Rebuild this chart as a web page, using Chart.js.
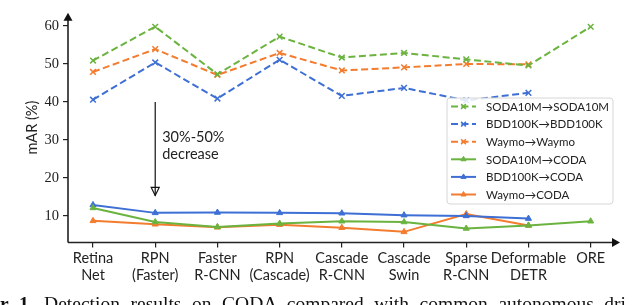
<!DOCTYPE html>
<html><head><meta charset="utf-8">
<script src="https://cdn.jsdelivr.net/npm/chart.js@4"></script>
<style>
html,body{margin:0;padding:0;background:#fff;}
#wrap{position:relative;width:640px;height:305px;overflow:hidden;}
#chart{position:absolute;left:0;top:0;}
#caption{position:absolute;left:0;top:294px;width:626px;font-family:"Liberation Serif",serif;font-size:19.5px;line-height:20px;text-align:justify;text-align-last:justify;color:#111;}
</style>
</head><body>
<div id="wrap">
<canvas id="chart" width="640" height="305"></canvas>
<div id="caption"><b>r 1.</b> Detection results on CODA compared with common autonomous dri</div>
</div>
<script>
const categories = [['Retina','Net'],['RPN','(Faster)'],['Faster','R-CNN'],['RPN','(Cascade)'],['Cascade','R-CNN'],['Cascade','Swin'],['Sparse','R-CNN'],['Deformable','DETR'],['ORE']];
const yTicks = [10,20,30,40,50,60];
const sodaSoda   = [50.9, 59.8, 47.3, 57.2, 51.7, 52.9, 51.2, 49.6, 59.8];
const bddBdd     = [40.6, 50.4, 40.9, 51.1, 41.6, 43.7, 40.4, 42.4, null];
const waymoWaymo = [47.9, 53.9, 47.1, 52.9, 48.3, 49.1, 50.0, 49.9, null];
const sodaCoda   = [12.1, 8.4, 7.1, 8.0, 8.6, 8.4, 6.7, 7.5, 8.6];
const bddCoda    = [12.9, 10.8, 10.9, 10.8, 10.7, 10.2, 10.0, 9.3, null];
const waymoCoda  = [8.7, 7.8, 7.0, 7.7, 6.9, 5.8, 10.5, 7.5, null];
const seriesNames = ['SODA10M\u2192SODA10M','BDD100K\u2192BDD100K','Waymo\u2192Waymo','SODA10M\u2192CODA','BDD100K\u2192CODA','Waymo\u2192CODA'];
const annotationText = ['30%-50%','decrease'];

const GREEN='#6bb33f', BLUE='#3d6fd4', ORANGE='#f37c2f';
const SANS='Lato, "DejaVu Sans", sans-serif';

function pts(arr){ return arr.map((v,i)=>v==null?null:{x:i,y:v}).filter(p=>p); }
function dashed(label,data,color){
  return {label,data:pts(data),borderColor:color,backgroundColor:color,borderWidth:2,borderDash:[7,3.5],
    pointStyle:'crossRot',pointRadius:4,pointBorderWidth:1.5,pointBorderColor:color,tension:0,fill:false};
}
function solid(label,data,color){
  return {label,data:pts(data),borderColor:color,backgroundColor:color,borderWidth:2,
    pointStyle:'triangle',pointRadius:3.5,pointBorderWidth:1,pointBackgroundColor:color,pointBorderColor:color,tension:0,fill:false};
}

const deco = {
  id:'deco',
  afterDraw(chart){
    const {ctx, chartArea:a, scales:{x,y}} = chart;
    ctx.save();
    ctx.setLineDash([]);
    // axes
    ctx.strokeStyle='#222'; ctx.fillStyle='#111'; ctx.lineWidth=1.6;
    ctx.beginPath();
    ctx.moveTo(a.left,a.bottom); ctx.lineTo(a.left,a.top+6);
    ctx.moveTo(a.left,a.bottom); ctx.lineTo(a.right+2,a.bottom);
    ctx.stroke();
    ctx.beginPath(); ctx.moveTo(a.left,a.top); ctx.lineTo(a.left-4.5,a.top+8); ctx.lineTo(a.left+4.5,a.top+8); ctx.closePath(); ctx.fill();
    ctx.beginPath(); ctx.moveTo(a.right+8,a.bottom); ctx.lineTo(a.right,a.bottom-4.5); ctx.lineTo(a.right,a.bottom+4.5); ctx.closePath(); ctx.fill();

    // annotation arrow
    const ax = x.getPixelForValue(1);
    const y0 = y.getPixelForValue(40), y1 = y.getPixelForValue(15.4);
    ctx.lineWidth=1.2; ctx.strokeStyle='#111';
    ctx.beginPath(); ctx.moveTo(ax,y0); ctx.lineTo(ax,y1); ctx.stroke();
    ctx.beginPath(); ctx.moveTo(ax,y1); ctx.lineTo(ax-4,y1-8); ctx.lineTo(ax+4,y1-8); ctx.closePath();
    ctx.fillStyle='#fff'; ctx.fill(); ctx.stroke();
    ctx.beginPath(); ctx.moveTo(ax,y1-8); ctx.lineTo(ax,y1); ctx.stroke();
    ctx.fillStyle='#222'; ctx.font='14.5px '+SANS; ctx.textBaseline='alphabetic'; ctx.textAlign='left';
    const tb = y.getPixelForValue(29.4);
    annotationText.forEach((t,i)=>ctx.fillText(t, ax+7, tb+i*17));

    // legend
    const lw=166, lh=106, lx=a.right-165, ly=98;
    ctx.beginPath();
    if (ctx.roundRect) ctx.roundRect(lx,ly,lw,lh,3); else ctx.rect(lx,ly,lw,lh);
    ctx.fillStyle='rgba(255,255,255,0.85)'; ctx.fill();
    ctx.strokeStyle='#d6d6d6'; ctx.lineWidth=1; ctx.stroke();
    chart.data.datasets.forEach((ds,i)=>{
      const cy = ly+8.5+i*17.6;
      ctx.save();
      ctx.strokeStyle=ds.borderColor; ctx.lineWidth=2;
      ctx.setLineDash(ds.borderDash||[]);
      ctx.beginPath(); ctx.moveTo(lx+4,cy); ctx.lineTo(lx+29,cy); ctx.stroke();
      ctx.setLineDash([]);
      ctx.lineWidth=ds.pointBorderWidth; ctx.fillStyle=ds.pointBackgroundColor||ds.borderColor;
      Chart.helpers.drawPoint(ctx,{pointStyle:ds.pointStyle,radius:ds.pointRadius*0.85,borderWidth:ds.pointBorderWidth,rotation:0},lx+16.5,cy);
      ctx.restore();
      ctx.fillStyle='#222'; ctx.font='11.5px '+SANS; ctx.textBaseline='middle';
      ctx.fillText(ds.label, lx+39, cy+0.5);
    });
    ctx.restore();
  }
};

new Chart(document.getElementById('chart'),{
  type:'line',
  data:{datasets:[
    dashed(seriesNames[0],sodaSoda,GREEN),
    dashed(seriesNames[1],bddBdd,BLUE),
    dashed(seriesNames[2],waymoWaymo,ORANGE),
    solid(seriesNames[3],sodaCoda,GREEN),
    solid(seriesNames[4],bddCoda,BLUE),
    solid(seriesNames[5],waymoCoda,ORANGE)
  ]},
  options:{
    responsive:false, animation:false, devicePixelRatio:1,
    layout:{padding:{left:0,right:28,top:0,bottom:0}},
    plugins:{legend:{display:false},tooltip:{enabled:false}},
    elements:{line:{borderCapStyle:'butt'}},
    scales:{
      x:{type:'linear',min:-0.402,max:8.343,
        afterBuildTicks:(s)=>{s.ticks=categories.map((c,i)=>({value:i}));},
        afterFit:(s)=>{s.height=62.5;},
        grid:{drawOnChartArea:false,drawTicks:true,tickLength:5,color:'#222',lineWidth:1.2},
        border:{display:false},
        ticks:{autoSkip:false,maxRotation:0,padding:2,color:'#222',font:{family:SANS,size:14.5},
          callback:(v)=>categories[v]}
      },
      y:{type:'linear',min:3.0,max:63.5,
        afterBuildTicks:(s)=>{s.ticks=yTicks.map(v=>({value:v}));},
        afterFit:(s)=>{s.width=68;},
        grid:{drawOnChartArea:false,drawTicks:true,tickLength:5,color:'#222',lineWidth:1.2},
        border:{display:false},
        ticks:{padding:4,color:'#222',font:{family:'"Liberation Serif", serif',size:14.5}},
        title:{display:true,text:'mAR (%)',color:'#222',font:{family:SANS,size:14.5},padding:{top:24,bottom:0}}
      }
    }
  },
  plugins:[deco]
});
</script>
</body></html>
